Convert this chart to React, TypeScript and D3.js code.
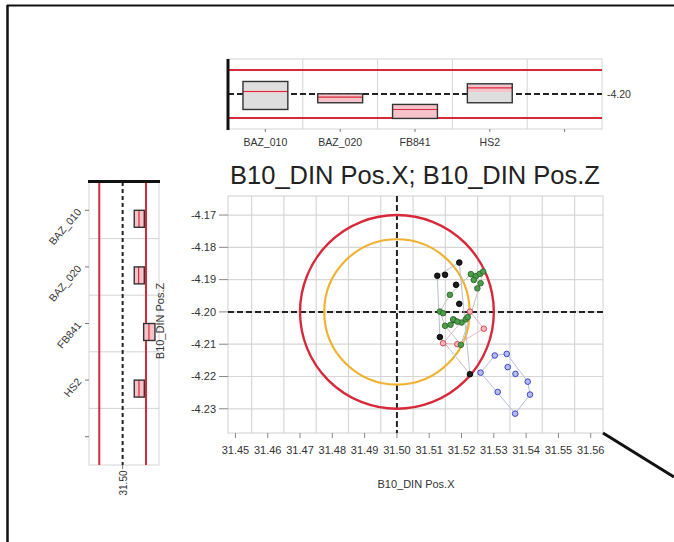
import React from 'react';
import * as d3 from 'd3';

// groups (categories) in the small charts
const groups = ['BAZ_010', 'BAZ_020', 'FB841', 'HS2'];
const bandCats = [...groups, ' '];

// scatter points per group: [Pos.X, Pos.Z]
const baz010Pts: [number, number][] = [
  [31.5193, -4.1847], [31.5125, -4.1888], [31.5149, -4.1885], [31.5183, -4.1916],
  [31.5193, -4.1975], [31.5176, -4.2025], [31.5226, -4.2193], [31.5133, -4.2078],
];
const baz020Pts: [number, number][] = [
  [31.5269, -4.2052], [31.5143, -4.2097], [31.5226, -4.1999], [31.5187, -4.2100],
];
const fb841Pts: [number, number][] = [
  [31.5303, -4.2135], [31.5340, -4.2130], [31.5343, -4.2171], [31.5367, -4.2192],
  [31.5259, -4.2188], [31.5405, -4.2216], [31.5412, -4.2256], [31.5312, -4.2248],
  [31.5366, -4.2315],
];
const hs2Pts: [number, number][] = [
  [31.5164, -4.1947], [31.5229, -4.1883], [31.5245, -4.1889], [31.5257, -4.1882],
  [31.5267, -4.1875], [31.5259, -4.1911], [31.5249, -4.1927], [31.5238, -4.1901],
  [31.5174, -4.2023], [31.5166, -4.2040], [31.5149, -4.2043], [31.5200, -4.2033],
  [31.5213, -4.2023], [31.5219, -4.2016], [31.5187, -4.2030], [31.5198, -4.2102],
  [31.5133, -4.1999], [31.5143, -4.2004],
];

// Z summary (top chart): min, max, mean, shaded band
const zMin = [-4.2194, -4.2110, -4.2306, -4.2110];
const zMax = [-4.1844, -4.1998, -4.2131, -4.1873];
const zMean = [-4.1969, -4.2040, -4.2194, -4.1925];
const zBandLo = [-4.1985, -4.2110, -4.2306, -4.1975];
const zBandHi = [-4.1955, -4.1998, -4.2131, -4.1890];

// X summary (left chart)
const xMin = [31.5149, 31.5149, 31.5270, 31.5149];
const xMax = [31.5278, 31.5278, 31.5415, 31.5278];
const xMean = [31.5210, 31.5205, 31.5338, 31.5210];

// nominal, limits, tolerance circles
const xTarget = 31.50;
const zTarget = -4.20;
const outerRadius = 0.03;
const innerRadius = 0.0225;

const xTicks = [31.45, 31.46, 31.47, 31.48, 31.49, 31.50, 31.51, 31.52, 31.53, 31.54, 31.55, 31.56];
const yTicks = [-4.17, -4.18, -4.19, -4.20, -4.21, -4.22, -4.23];

const W = 674;
const H = 542;
const FONT = '"Liberation Sans", Arial, sans-serif';
const RED = '#d62a3a';

const series = [
  { pts: baz010Pts, fill: '#1c1c1c', stroke: '#000', hull: '#b9bfcc' },
  { pts: baz020Pts, fill: '#f6b3bb', stroke: '#d23a4a', hull: '#e4b8c0' },
  { pts: fb841Pts, fill: '#b7bbf3', stroke: '#2b38c0', hull: '#b7bde0' },
  { pts: hs2Pts, fill: '#4f9c4a', stroke: '#2c6a2a', hull: '#b9c9b9' },
];

export default function App() {
  // main scatter
  const x = d3.scaleLinear().domain([31.4477, 31.5638]).range([228, 603]);
  const y = d3.scaleLinear().domain([-4.2375, -4.1641]).range([433, 196]);
  // top chart (z vs group)
  const tx = d3.scaleBand<string>().domain(bandCats).range([228, 602]);
  const ty = d3.scaleLinear().domain([-4.2438, -4.1563]).range([129, 59]);
  // left chart (x vs group)
  const lx = d3.scaleLinear().domain([31.4568, 31.5467]).range([89, 159]);
  const ly = d3.scaleBand<string>().domain(bandCats).range([182, 465]);

  const [x0, x1] = x.range();
  const [y0, y1] = y.range();
  const slope = 44 / 71;

  return (
    <svg width={W} height={H} style={{ position: 'absolute', left: 0, top: 0, fontFamily: FONT }}>
      <rect width={W} height={H} fill="#fff" />
      {/* outer frame */}
      <line x1={7} y1={5.5} x2={W} y2={5.5} stroke="#111" strokeWidth={2.2} />
      <line x1={7.5} y1={5} x2={7.5} y2={H} stroke="#111" strokeWidth={2.5} />

      {/* ---------- top chart ---------- */}
      <rect x={228} y={59} width={374} height={70} fill="#fff" stroke="#d4d4d4" />
      {bandCats.slice(1).map(c => (
        <line key={c} x1={tx(c)} x2={tx(c)} y1={59} y2={129} stroke="#d4d4d4" />
      ))}
      <line x1={228} x2={602} y1={ty(-4.17)} y2={ty(-4.17)} stroke={RED} strokeWidth={2} />
      <line x1={228} x2={602} y1={ty(-4.23)} y2={ty(-4.23)} stroke={RED} strokeWidth={2} />
      <line x1={228} x2={602} y1={ty(zTarget)} y2={ty(zTarget)} stroke="#222" strokeWidth={2} strokeDasharray="6,3" />
      {groups.map((g, i) => {
        const bw = tx.bandwidth() * 0.6;
        const bx = tx(g)! + (tx.bandwidth() - bw) / 2;
        return (
          <g key={g}>
            <rect x={bx} y={ty(zMax[i])} width={bw} height={ty(zMin[i]) - ty(zMax[i])} fill="#dedede" />
            <rect x={bx} y={ty(zBandHi[i])} width={bw} height={ty(zBandLo[i]) - ty(zBandHi[i])} fill="#f5c3c9" />
            <line x1={bx} x2={bx + bw} y1={ty(zMean[i])} y2={ty(zMean[i])} stroke={RED} strokeWidth={1.2} />
            <rect x={bx} y={ty(zMax[i])} width={bw} height={ty(zMin[i]) - ty(zMax[i])} fill="none" stroke="#333" strokeWidth={1.4} />
          </g>
        );
      })}
      <line x1={228} x2={228} y1={59} y2={130} stroke="#111" strokeWidth={3} />
      {bandCats.map(c => {
        const cx = tx(c)! + tx.bandwidth() / 2;
        return (
          <g key={c}>
            <line x1={cx} x2={cx} y1={129} y2={132} stroke="#777" />
            <text x={cx} y={146} fontSize={10.5} fill="#333" textAnchor="middle">{c}</text>
          </g>
        );
      })}
      <text x={607} y={ty(zTarget)} dy="0.35em" fontSize={10.5} fill="#333">{zTarget.toFixed(2)}</text>

      {/* ---------- left chart ---------- */}
      <rect x={89} y={182} width={70} height={283} fill="#fff" stroke="#d4d4d4" />
      {bandCats.slice(1).map(c => (
        <line key={c} x1={89} x2={159} y1={ly(c)} y2={ly(c)} stroke="#d4d4d4" />
      ))}
      <line x1={lx(31.47)} x2={lx(31.47)} y1={182} y2={465} stroke={RED} strokeWidth={2} />
      <line x1={lx(31.53)} x2={lx(31.53)} y1={182} y2={465} stroke={RED} strokeWidth={2} />
      <line x1={lx(xTarget)} x2={lx(xTarget)} y1={182} y2={465} stroke="#222" strokeWidth={2} strokeDasharray="4,3" />
      {groups.map((g, i) => {
        const bh = ly.bandwidth() * 0.3;
        const by = ly(g)! + ly.bandwidth() / 2;
        return (
          <g key={g}>
            <rect x={lx(xMin[i])} y={by} width={lx(xMax[i]) - lx(xMin[i])} height={bh} fill="#f5c3c9" />
            <line x1={lx(xMean[i])} x2={lx(xMean[i])} y1={by} y2={by + bh} stroke={RED} strokeWidth={1.2} />
            <rect x={lx(xMin[i])} y={by} width={lx(xMax[i]) - lx(xMin[i])} height={bh} fill="none" stroke="#333" strokeWidth={1.4} />
          </g>
        );
      })}
      <line x1={88} x2={160} y1={181.5} y2={181.5} stroke="#111" strokeWidth={3} />
      {bandCats.map(c => {
        const cy = ly(c)! + ly.bandwidth() / 2;
        return (
          <g key={c}>
            <line x1={85} x2={89} y1={cy} y2={cy} stroke="#777" />
            <text transform={`translate(82,${cy + 2}) rotate(-50)`} fontSize={10.5} fill="#333" textAnchor="end">{c}</text>
          </g>
        );
      })}
      <line x1={lx(xTarget)} x2={lx(xTarget)} y1={465} y2={469} stroke="#777" />
      <text transform={`translate(${lx(xTarget) + 4},483) rotate(-90)`} fontSize={10} fill="#333" textAnchor="middle">{xTarget.toFixed(2)}</text>

      {/* ---------- main scatter ---------- */}
      <text x={415} y={184} fontSize={25.5} fill="#222" textAnchor="middle">B10_DIN Pos.X; B10_DIN Pos.Z</text>
      <rect x={x0} y={y1} width={x1 - x0} height={y0 - y1} fill="#fff" stroke="#d0d0d0" />
      {xTicks.slice(0, -1).map(t => (
        <line key={t} x1={x(t + 0.005)} x2={x(t + 0.005)} y1={y1} y2={y0} stroke="#d6d6d6" strokeWidth={1.2} />
      ))}
      {yTicks.map(t => (
        <line key={t} x1={x0} x2={x1} y1={y(t)} y2={y(t)} stroke="#d6d6d6" strokeWidth={1.2} />
      ))}
      <line x1={x0} x2={x1} y1={y(zTarget)} y2={y(zTarget)} stroke="#222" strokeWidth={2} strokeDasharray="6,3" />
      <line x1={x(xTarget)} x2={x(xTarget)} y1={y1} y2={y0} stroke="#222" strokeWidth={2} strokeDasharray="6,3" />
      <ellipse cx={x(xTarget)} cy={y(zTarget)} rx={x(xTarget + outerRadius) - x(xTarget)} ry={y(zTarget) - y(zTarget + outerRadius)}
        fill="none" stroke={RED} strokeWidth={2.4} />
      <ellipse cx={x(xTarget)} cy={y(zTarget)} rx={x(xTarget + innerRadius) - x(xTarget)} ry={y(zTarget) - y(zTarget + innerRadius)}
        fill="none" stroke="#f0b232" strokeWidth={2.2} />
      {series.map((s, i) => {
        const hull = d3.polygonHull(s.pts.map(p => [x(p[0]), y(p[1])] as [number, number]));
        return hull ? (
          <path key={'h' + i} d={'M' + hull.join('L') + 'Z'} fill="none" stroke={s.hull} strokeWidth={1} />
        ) : null;
      })}
      {series.map((s, i) => (
        <g key={'s' + i}>
          {s.pts.map((p, j) => (
            <circle key={j} cx={x(p[0])} cy={y(p[1])} r={2.8} fill={s.fill} stroke={s.stroke} strokeWidth={0.9} />
          ))}
        </g>
      ))}
      {yTicks.map(t => (
        <g key={t}>
          <line x1={219} x2={x0} y1={y(t)} y2={y(t)} stroke="#888" />
          <text x={216} y={y(t)} dy="0.35em" fontSize={11} fill="#333" textAnchor="end">{t.toFixed(2)}</text>
        </g>
      ))}
      {xTicks.map(t => (
        <g key={t}>
          <line x1={x(t)} x2={x(t)} y1={y0} y2={y0 + 5} stroke="#888" />
          <text x={x(t)} y={454} fontSize={11} fill="#333" textAnchor="middle">{t.toFixed(2)}</text>
        </g>
      ))}
      <text x={416} y={488} fontSize={11} fill="#333" textAnchor="middle">B10_DIN Pos.X</text>
      <text transform="translate(164,321) rotate(-90)" fontSize={11} fill="#333" textAnchor="middle">B10_DIN Pos.Z</text>
      {/* connector line */}
      <line x1={x1} y1={y0} x2={W} y2={y0 + (W - x1) * slope} stroke="#111" strokeWidth={3} />
    </svg>
  );
}
